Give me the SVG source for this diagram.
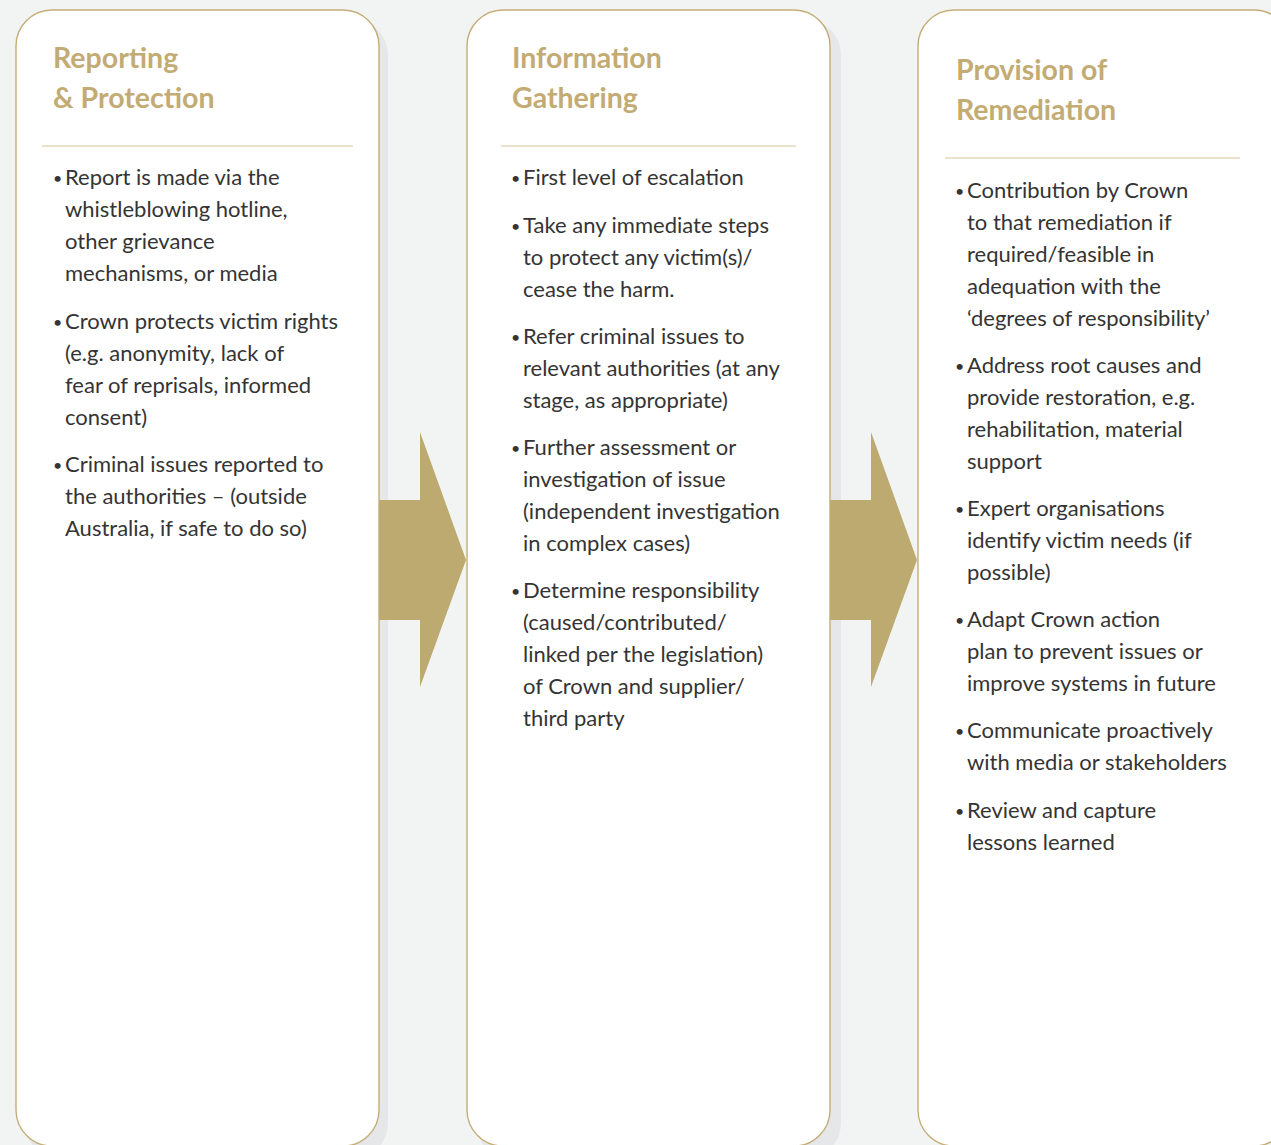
<svg xmlns="http://www.w3.org/2000/svg" width="1271" height="1145" viewBox="0 0 1271 1145">
  <style>
    .bg { fill: #f2f4f3; }
    .shadow { fill: #e6e7e9; }
    .card { fill: #ffffff; stroke: #c4ad78; stroke-width: 1.4; }
    .rule { stroke: #e3d8bd; stroke-width: 1.4; }
    .arrow { fill: #bdaa70; }
    .title { font-family: Lato, "Liberation Sans", sans-serif; font-weight: 700; font-size: 28.5px; fill: #c3ab74; }
    .body { font-family: Lato, "Liberation Sans", sans-serif; font-size: 22px; fill: #343434; }
    .dot { font-size: 16px; }
  </style>
  <rect class="bg" x="0" y="0" width="1271" height="1145"/>

  <!-- drop shadows behind the stage cards -->
  <g id="shadows">
    <rect class="shadow" x="25" y="19" width="363" height="1140" rx="36"/>
    <rect class="shadow" x="476" y="19" width="365" height="1140" rx="36"/>
  </g>

  <!-- connectors: block arrows between stages -->
  <g id="connectors">
    <polygon class="arrow" points="375,500 420,500 420,432 466,560 420,687 420,620 375,620"/>
    <polygon class="arrow" points="826,500 871,500 871,432 917,560 871,687 871,620 826,620"/>
  </g>

  <!-- stage 1 -->
  <g id="stage-reporting">
    <rect class="card" x="16" y="10" width="363" height="1136" rx="36"/>
    <text class="title" x="53" y="68">Reporting</text>
    <text class="title" x="53" y="108">&amp; Protection</text>
    <line class="rule" x1="42" y1="146" x2="353" y2="146"/>
    <text class="body">
      <tspan class="dot" x="53" y="184">•</tspan><tspan x="65" y="185">Report is made via the</tspan>
      <tspan x="65" y="217">whistleblowing hotline,</tspan>
      <tspan x="65" y="249">other grievance</tspan>
      <tspan x="65" y="281">mechanisms, or media</tspan>
      <tspan class="dot" x="53" y="328">•</tspan><tspan x="65" y="329">Crown protects victim rights</tspan>
      <tspan x="65" y="361">(e.g. anonymity, lack of</tspan>
      <tspan x="65" y="393">fear of reprisals, informed</tspan>
      <tspan x="65" y="425">consent)</tspan>
      <tspan class="dot" x="53" y="471">•</tspan><tspan x="65" y="472">Criminal issues reported to</tspan>
      <tspan x="65" y="504">the authorities – (outside</tspan>
      <tspan x="65" y="536">Australia, if safe to do so)</tspan>
    </text>
  </g>

  <!-- stage 2 -->
  <g id="stage-information">
    <rect class="card" x="467" y="10" width="363" height="1136" rx="36"/>
    <text class="title" x="512" y="68">Information</text>
    <text class="title" x="512" y="108">Gathering</text>
    <line class="rule" x1="501" y1="146" x2="796" y2="146"/>
    <text class="body">
      <tspan class="dot" x="511" y="184">•</tspan><tspan x="523" y="185">First level of escalation</tspan>
      <tspan class="dot" x="511" y="232">•</tspan><tspan x="523" y="233">Take any immediate steps</tspan>
      <tspan x="523" y="265">to protect any victim(s)/</tspan>
      <tspan x="523" y="297">cease the harm.</tspan>
      <tspan class="dot" x="511" y="343">•</tspan><tspan x="523" y="344">Refer criminal issues to</tspan>
      <tspan x="523" y="376">relevant authorities (at any</tspan>
      <tspan x="523" y="408">stage, as appropriate)</tspan>
      <tspan class="dot" x="511" y="454">•</tspan><tspan x="523" y="455">Further assessment or</tspan>
      <tspan x="523" y="487">investigation of issue</tspan>
      <tspan x="523" y="519">(independent investigation</tspan>
      <tspan x="523" y="551">in complex cases)</tspan>
      <tspan class="dot" x="511" y="597">•</tspan><tspan x="523" y="598">Determine responsibility</tspan>
      <tspan x="523" y="630">(caused/contributed/</tspan>
      <tspan x="523" y="662">linked per the legislation)</tspan>
      <tspan x="523" y="694">of Crown and supplier/</tspan>
      <tspan x="523" y="726">third party</tspan>
    </text>
  </g>

  <!-- stage 3 -->
  <g id="stage-remediation">
    <rect class="card" x="918" y="10" width="372" height="1136" rx="36"/>
    <text class="title" x="956" y="80">Provision of</text>
    <text class="title" x="956" y="120">Remediation</text>
    <line class="rule" x1="945" y1="158" x2="1240" y2="158"/>
    <text class="body">
      <tspan class="dot" x="955" y="197">•</tspan><tspan x="967" y="198">Contribution by Crown</tspan>
      <tspan x="967" y="230">to that remediation if</tspan>
      <tspan x="967" y="262">required/feasible in</tspan>
      <tspan x="967" y="294">adequation with the</tspan>
      <tspan x="967" y="326">‘degrees of responsibility’</tspan>
      <tspan class="dot" x="955" y="372">•</tspan><tspan x="967" y="373">Address root causes and</tspan>
      <tspan x="967" y="405">provide restoration, e.g.</tspan>
      <tspan x="967" y="437">rehabilitation, material</tspan>
      <tspan x="967" y="469">support</tspan>
      <tspan class="dot" x="955" y="515">•</tspan><tspan x="967" y="516">Expert organisations</tspan>
      <tspan x="967" y="548">identify victim needs (if</tspan>
      <tspan x="967" y="580">possible)</tspan>
      <tspan class="dot" x="955" y="626">•</tspan><tspan x="967" y="627">Adapt Crown action</tspan>
      <tspan x="967" y="659">plan to prevent issues or</tspan>
      <tspan x="967" y="691">improve systems in future</tspan>
      <tspan class="dot" x="955" y="737">•</tspan><tspan x="967" y="738">Communicate proactively</tspan>
      <tspan x="967" y="770">with media or stakeholders</tspan>
      <tspan class="dot" x="955" y="817">•</tspan><tspan x="967" y="818">Review and capture</tspan>
      <tspan x="967" y="850">lessons learned</tspan>
    </text>
  </g>
</svg>
